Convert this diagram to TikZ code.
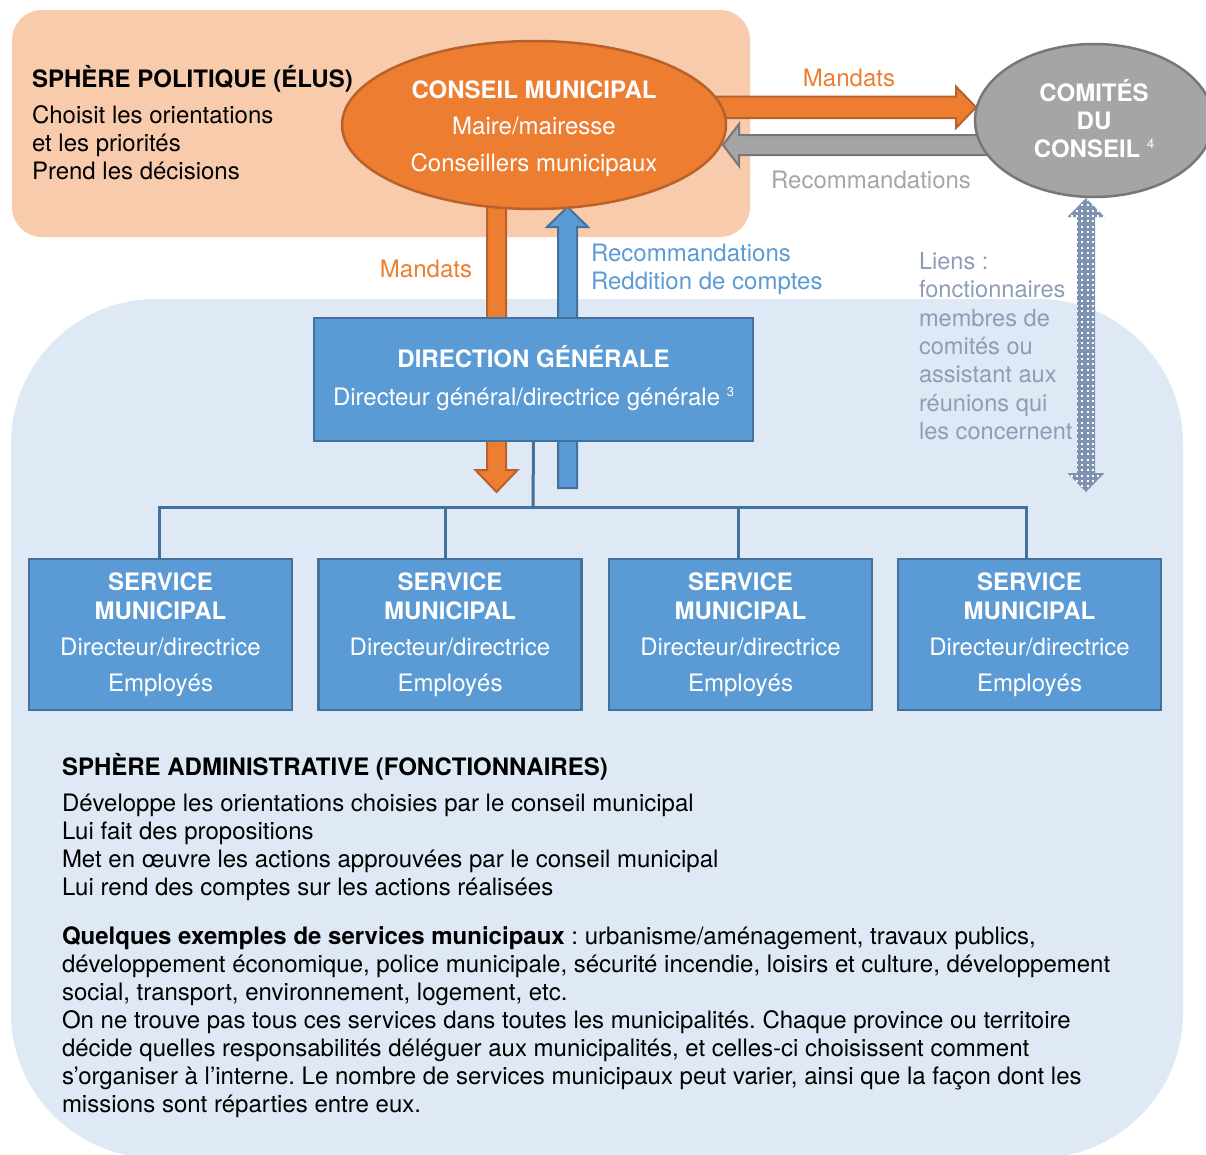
\documentclass[tikz,border=0pt]{standalone}
\usepackage{fontspec}
\setmainfont{TeX Gyre Heros}
\usetikzlibrary{shapes.geometric}
\definecolor{orng}{HTML}{ED7D31}
\definecolor{orngbd}{HTML}{B9612A}
\definecolor{peach}{HTML}{F8CBAD}
\definecolor{lightbl}{HTML}{DEE9F5}
\definecolor{bluef}{HTML}{5B9BD5}
\definecolor{bluebd}{HTML}{41719C}
\definecolor{gry}{HTML}{A5A5A5}
\definecolor{grybd}{HTML}{777777}
\definecolor{gryt}{HTML}{A5A5A5}
\definecolor{bluet}{HTML}{5B9BD5}
\definecolor{lienst}{HTML}{8E9DB5}
\definecolor{dotc}{HTML}{7F93B0}
% block arrow shapes: tail, head base, tip, centre, half body, half head
\newcommand{\hblk}[6]{(#1,{#4-#5}) -- (#2,{#4-#5}) -- (#2,{#4-#6}) -- (#3,#4) -- (#2,{#4+#6}) -- (#2,{#4+#5}) -- (#1,{#4+#5}) -- cycle}
\newcommand{\vblk}[6]{({#4-#5},#1) -- ({#4-#5},#2) -- ({#4-#6},#2) -- (#4,#3) -- ({#4+#6},#2) -- ({#4+#5},#2) -- ({#4+#5},#1) -- cycle}
\newcommand{\vdbl}[7]{(#5,#1) -- ({#5+#7},#2) -- ({#5+#6},#2) -- ({#5+#6},#3) -- ({#5+#7},#3) -- (#5,#4) -- ({#5-#7},#3) -- ({#5-#6},#3) -- ({#5-#6},#2) -- ({#5-#7},#2) -- cycle}
\newcommand{\supnum}[1]{\raisebox{9pt}{\fontsize{13}{13}\selectfont\mdseries #1}}
\frenchspacing
\begin{document}
\begin{tikzpicture}[x=1pt,y=-1pt,
  every node/.style={inner sep=0pt, outer sep=0pt, font=\fontsize{24}{28}\selectfont\frenchspacing},
  svc/.style={draw=bluebd, line width=2.5pt, fill=bluef, minimum width=263pt, minimum height=151pt, text=white, align=center, font=\fontsize{24}{29}\selectfont},
  tree/.style={draw=bluebd, line width=3pt},
  oarrow/.style={fill=orng, draw=orngbd, line width=2pt},
  barrow/.style={fill=bluef, draw=bluebd, line width=2pt},
  garrow/.style={fill=gry, draw=grybd, line width=2pt}]
\useasboundingbox (0,0) rectangle (1206,1154);
% backgrounds
\fill[peach, rounded corners=30pt] (12,10) rectangle (750,237);
\begin{scope}
\clip (0,0) rectangle (1206,1154);
\fill[lightbl, rounded corners=145pt] (11,299) rectangle (1183,1158);
\end{scope}
% block arrows
\filldraw[oarrow] \hblk{690}{956}{976}{107.3}{10.7}{20.7};
\filldraw[garrow] \hblk{1010}{739}{723}{145}{10}{21};
\filldraw[oarrow] \vblk{180}{470}{492}{496.5}{9.5}{21};
\filldraw[barrow] \vblk{488}{227}{207}{567.5}{9.5}{20.5};
% dotted double arrow
\begin{scope}
\clip \vdbl{198}{217}{473}{492}{1086}{9}{18.5};
\fill[dotc] (1060,190) rectangle (1112,500);
\foreach \i in {0,...,8}{\foreach \j in {0,...,56}{\fill[white] ({1065.5+\i*5.3},{199+\j*5.3}) rectangle ++(2,2);}}
\end{scope}
% ellipses
\node[ellipse, draw=orngbd, line width=2.5pt, fill=orng, minimum width=384pt, minimum height=168pt, text=white, align=center] (cm) at (534,125)
  {\rule{0pt}{25pt}\textbf{CONSEIL MUNICIPAL}\\[8.5pt]Maire/mairesse\\[8.5pt]Conseillers municipaux};
\node[ellipse, draw=grybd, line width=2.5pt, fill=gry, minimum width=238pt, minimum height=153pt, text=white, align=center] (cc) at (1094,120.5)
  {\textbf{COMITÉS}\\\textbf{DU}\\\textbf{CONSEIL} \supnum{4}\rule[-5pt]{0pt}{5pt}};
% direction generale
\node[draw=bluebd, fill=bluef, line width=2.5pt, minimum width=439pt, minimum height=123pt, text=white, align=center, font=\fontsize{24}{38}\selectfont] (dg) at (533.5,379.5)
  {\textbf{DIRECTION GÉNÉRALE}\\Directeur général/directrice générale \supnum{3}\rule[-9pt]{0pt}{9pt}};
% services
\coordinate (bus) at (533,507);
\node[svc] (s1) at (160.5,634.5) {\textbf{SERVICE}\\\textbf{MUNICIPAL}\\[7pt]Directeur/directrice\\[7pt]Employés};
\node[svc] (s2) at (450,634.5) {\textbf{SERVICE}\\\textbf{MUNICIPAL}\\[7pt]Directeur/directrice\\[7pt]Employés};
\node[svc] (s3) at (740.5,634.5) {\textbf{SERVICE}\\\textbf{MUNICIPAL}\\[7pt]Directeur/directrice\\[7pt]Employés};
\node[svc] (s4) at (1029.5,634.5) {\textbf{SERVICE}\\\textbf{MUNICIPAL}\\[7pt]Directeur/directrice\\[7pt]Employés};
\coordinate (k1) at ([xshift=-1.5pt]s1.north);
\coordinate (k2) at ([xshift=-5pt]s2.north);
\coordinate (k3) at ([xshift=-2.5pt]s3.north);
\coordinate (k4) at ([xshift=-3.5pt]s4.north);
\draw[tree] (dg.south) -- (bus);
\draw[tree] (k1) -- (k1 |- bus) -- (k4 |- bus) -- (k4);
\draw[tree] (k2) -- (k2 |- bus);
\draw[tree] (k3) -- (k3 |- bus);
% texts (multi-line nodes: base anchor = last line)
\node[anchor=base west, font=\fontsize{24}{28}\selectfont\bfseries] (t1) at (32,87) {SPHÈRE POLITIQUE (ÉLUS)};
\node[anchor=base west, align=left] (t2) at (32,179) {Choisit les orientations\\et les priorités\\Prend les décisions};
\node[anchor=base, text=orng] (m1) at (849,86.5) {Mandats};
\node[anchor=base, text=gryt] (r1) at (871,188.5) {Recommandations};
\node[anchor=base, text=orng] (m2) at (426,277.5) {Mandats};
\node[anchor=base west, text=bluet, align=left] (r2) at (591,289.5) {Recommandations\\Reddition de comptes};
\node[anchor=base west, text=lienst, align=left, font=\fontsize{23.6}{28.3}\selectfont] (li) at (919,439.3)
  {Liens :\\fonctionnaires\\membres de\\comités ou\\assistant aux\\réunions qui\\les concernent};
\node[anchor=base west, font=\fontsize{24}{28}\selectfont\bfseries] (sa) at (62,775.5) {SPHÈRE ADMINISTRATIVE (FONCTIONNAIRES)};
\node[anchor=base west, align=left] (sl) at (62,895.5)
  {Développe les orientations choisies par le conseil municipal\\Lui fait des propositions\\Met en œuvre les actions approuvées par le conseil municipal\\Lui rend des comptes sur les actions réalisées};
\node[anchor=base west, align=left] (ex) at (62,1112.5)
  {\textbf{Quelques exemples de services municipaux} : urbanisme/aménagement, travaux publics,\\
   développement économique, police municipale, sécurité incendie, loisirs et culture, développement\\
   social, transport, environnement, logement, etc.\\
   On ne trouve pas tous ces services dans toutes les municipalités. Chaque province ou territoire\\
   décide quelles responsabilités déléguer aux municipalités, et celles-ci choisissent comment\\
   s’organiser à l’interne. Le nombre de services municipaux peut varier, ainsi que la façon dont les\\
   missions sont réparties entre eux.};
\end{tikzpicture}
\end{document}
